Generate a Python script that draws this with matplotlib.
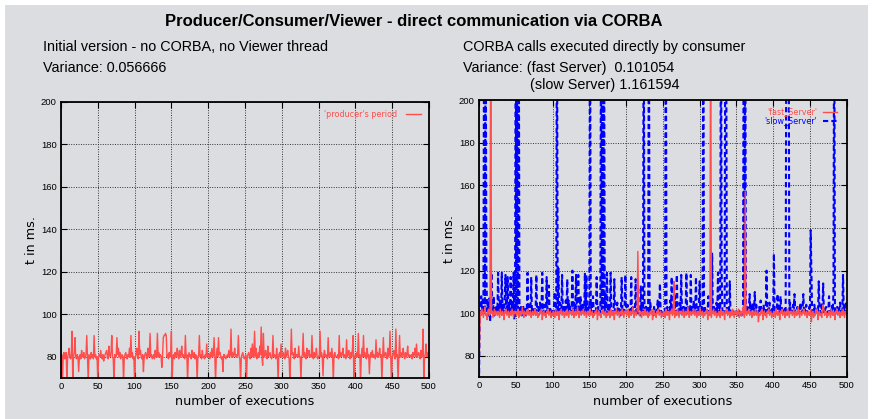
import matplotlib
matplotlib.use("Agg")
import matplotlib.pyplot as plt
from matplotlib.patches import Rectangle
import numpy as np

# producer's period, initial version (ms), one value per execution
producer_period = [
    80, 81, 68, 80, 82, 79, 80, 82, 68, 80, 81, 84, 80, 79, 81, 92, 68, 80, 82, 89, 80, 79, 81, 80, 73,
    80, 81, 79, 83, 80, 80, 82, 79, 80, 81, 90, 80, 68, 81, 80, 79, 82, 80, 81, 79, 90, 80, 81, 79, 80,
    68, 80, 81, 80, 83, 80, 79, 81, 78, 80, 81, 82, 83, 80, 79, 85, 81, 80, 82, 90, 80, 79, 68, 81, 80,
    80, 89, 81, 84, 80, 82, 79, 80, 81, 80, 68, 80, 81, 82, 80, 79, 81, 80, 84, 80, 90, 80, 82, 79, 80,
    68, 80, 81, 84, 80, 79, 92, 81, 83, 80, 79, 81, 73, 80, 81, 82, 80, 79, 84, 80, 81, 91, 80, 81, 79,
    80, 81, 79, 83, 80, 81, 91, 80, 82, 80, 81, 80, 75, 81, 89, 90, 90, 91, 90, 80, 81, 79, 82, 80, 81,
    92, 68, 80, 81, 79, 82, 80, 81, 84, 80, 79, 83, 80, 81, 85, 80, 81, 80, 79, 90, 80, 81, 68, 80, 82,
    80, 81, 79, 83, 80, 80, 82, 79, 81, 80, 68, 80, 81, 90, 80, 81, 79, 83, 80, 80, 79, 81, 80, 86, 80,
    80, 81, 79, 82, 80, 84, 80, 81, 89, 80, 68, 80, 84, 80, 89, 81, 82, 80, 79, 80, 73, 81, 81, 80, 79,
    80, 81, 80, 83, 80, 81, 93, 80, 82, 80, 81, 84, 80, 81, 80, 81, 90, 80, 79, 68, 80, 81, 82, 80, 79,
    80, 81, 68, 80, 81, 82, 80, 79, 84, 80, 86, 80, 81, 92, 80, 84, 79, 80, 82, 80, 85, 81, 94, 80, 76,
    91, 80, 81, 83, 80, 79, 85, 80, 81, 82, 80, 79, 80, 90, 80, 81, 80, 79, 84, 80, 68, 81, 82, 80, 86,
    80, 81, 82, 80, 79, 84, 80, 81, 83, 80, 79, 68, 80, 93, 81, 82, 80, 79, 84, 80, 81, 81, 80, 85, 80,
    80, 68, 80, 81, 91, 80, 82, 80, 79, 84, 80, 81, 83, 80, 81, 80, 90, 80, 79, 82, 80, 81, 84, 80, 79,
    80, 81, 92, 80, 82, 80, 71, 81, 83, 80, 81, 80, 79, 89, 80, 81, 82, 80, 84, 80, 68, 81, 82, 80, 80,
    80, 81, 79, 90, 80, 82, 80, 81, 84, 80, 81, 80, 79, 88, 80, 81, 83, 80, 79, 82, 80, 84, 90, 68, 80,
    81, 80, 82, 80, 91, 80, 81, 68, 80, 84, 80, 90, 80, 82, 80, 79, 84, 80, 81, 72, 80, 82, 80, 83, 80,
    81, 80, 79, 88, 80, 82, 80, 81, 84, 80, 81, 68, 80, 89, 80, 81, 82, 80, 79, 84, 80, 81, 92, 80, 68,
    80, 81, 83, 80, 79, 93, 80, 81, 68, 80, 90, 80, 82, 80, 81, 84, 80, 79, 82, 80, 81, 85, 80, 81, 80,
    80, 81, 79, 82, 80, 81, 84, 80, 86, 80, 81, 82, 80, 79, 83, 80, 81, 93, 68, 80, 81, 86, 80, 82, 80,
]

# CORBA called directly by consumer, fast server (ms)
fast_server = [
    68, 92, 101, 99, 102, 100, 98, 101, 103, 99, 100, 97, 101, 102, 99, 100, 260, 100, 101, 98, 100, 102, 99, 101, 100,
    99, 101, 100, 98, 102, 100, 99, 101, 100, 97, 101, 100, 102, 99, 100, 101, 98, 100, 101, 99, 102, 100, 98, 101, 100,
    101, 99, 100, 102, 98, 100, 101, 99, 100, 103, 100, 98, 101, 100, 99, 101, 100, 102, 99, 100, 101, 98, 100, 101, 99,
    100, 102, 99, 100, 101, 98, 100, 99, 101, 100, 102, 97, 100, 101, 99, 100, 98, 101, 100, 102, 99, 100, 101, 98, 100,
    99, 101, 100, 98, 102, 100, 99, 101, 100, 97, 101, 100, 102, 99, 100, 101, 98, 100, 101, 99, 102, 100, 98, 101, 100,
    101, 99, 100, 102, 98, 100, 101, 99, 100, 103, 100, 98, 101, 100, 99, 101, 100, 102, 99, 100, 101, 98, 100, 101, 99,
    100, 102, 99, 100, 101, 98, 100, 99, 101, 100, 102, 97, 100, 101, 99, 100, 98, 101, 100, 102, 99, 100, 101, 98, 100,
    99, 101, 100, 98, 102, 100, 99, 101, 100, 97, 101, 100, 102, 99, 100, 101, 98, 100, 101, 99, 102, 100, 98, 101, 100,
    101, 99, 100, 102, 98, 100, 101, 99, 100, 103, 100, 98, 101, 100, 99, 101, 129, 102, 99, 100, 101, 98, 100, 101, 99,
    100, 102, 99, 100, 101, 98, 100, 99, 101, 100, 102, 97, 100, 101, 99, 100, 98, 101, 100, 102, 99, 100, 101, 98, 100,
    99, 101, 100, 98, 102, 100, 99, 101, 100, 97, 101, 100, 102, 99, 100, 115, 98, 100, 101, 99, 102, 100, 98, 101, 100,
    101, 99, 100, 102, 98, 100, 101, 99, 100, 103, 100, 98, 101, 100, 99, 101, 100, 102, 99, 100, 101, 98, 100, 101, 99,
    100, 102, 99, 100, 101, 98, 100, 99, 101, 100, 102, 97, 100, 101, 99, 260, 98, 101, 100, 102, 99, 100, 101, 98, 100,
    99, 101, 100, 98, 102, 100, 99, 101, 100, 97, 101, 100, 102, 99, 100, 101, 98, 100, 101, 99, 102, 100, 98, 101, 100,
    101, 99, 100, 102, 98, 100, 101, 99, 100, 103, 100, 98, 157, 100, 99, 101, 100, 102, 99, 100, 101, 98, 100, 101, 99,
    100, 102, 99, 100, 101, 96, 100, 99, 101, 100, 102, 97, 100, 101, 99, 100, 98, 101, 100, 102, 99, 100, 101, 98, 100,
    99, 101, 100, 98, 102, 100, 99, 101, 100, 97, 101, 100, 102, 99, 100, 101, 98, 100, 101, 99, 102, 100, 98, 101, 100,
    101, 99, 100, 102, 98, 100, 101, 99, 100, 103, 100, 98, 101, 100, 99, 101, 100, 102, 99, 100, 101, 98, 100, 101, 99,
    100, 102, 96, 100, 101, 98, 100, 99, 101, 100, 102, 97, 100, 101, 99, 100, 98, 101, 104, 102, 99, 100, 101, 98, 100,
    99, 101, 100, 98, 102, 100, 99, 101, 100, 97, 101, 100, 102, 99, 100, 101, 98, 100, 101, 99, 102, 100, 98, 101, 100,
]

# CORBA called directly by consumer, slow server (ms)
slow_server = [
    68, 100, 104, 108, 101, 106, 100, 260, 102, 260, 119, 101, 105, 99, 107, 96, 101, 119, 103, 100, 108, 99, 102, 101, 104,
    101, 119, 100, 103, 106, 100, 119, 101, 104, 100, 107, 118, 100, 102, 117, 101, 105, 99, 117, 100, 104, 101, 119, 97, 102,
    260, 101, 260, 100, 260, 105, 100, 103, 99, 101, 104, 100, 100, 102, 99, 101, 119, 100, 101, 104, 100, 117, 100, 103, 101,
    100, 102, 101, 118, 100, 99, 103, 101, 105, 100, 101, 119, 100, 102, 104, 101, 100, 117, 100, 102, 113, 100, 102, 99, 100,
    101, 99, 104, 110, 100, 101, 260, 100, 121, 101, 105, 100, 102, 118, 100, 104, 101, 100, 106, 102, 116, 100, 106, 101, 103,
    100, 102, 120, 101, 105, 100, 103, 118, 100, 104, 118, 101, 100, 108, 102, 100, 104, 101, 100, 119, 101, 118, 100, 101, 103,
    100, 260, 101, 104, 100, 108, 101, 100, 102, 101, 117, 100, 103, 101, 100, 102, 260, 102, 260, 100, 260, 101, 110, 100, 119,
    101, 100, 104, 101, 119, 100, 102, 101, 100, 116, 100, 101, 100, 105, 101, 100, 102, 99, 100, 117, 101, 101, 100, 103, 118,
    100, 101, 104, 100, 100, 102, 101, 117, 100, 103, 101, 101, 100, 116, 100, 102, 100, 101, 100, 99, 113, 101, 105, 100, 260,
    101, 100, 104, 101, 101, 100, 260, 100, 105, 100, 100, 101, 99, 103, 100, 100, 101, 102, 106, 100, 101, 114, 100, 101, 99,
    100, 101, 100, 101, 260, 100, 103, 100, 101, 100, 106, 101, 117, 100, 101, 102, 108, 100, 101, 118, 100, 102, 101, 105, 100,
    118, 101, 100, 104, 101, 100, 102, 119, 100, 103, 100, 101, 100, 118, 100, 101, 100, 106, 101, 100, 117, 100, 102, 101, 104,
    115, 100, 101, 103, 100, 260, 101, 103, 100, 101, 100, 102, 108, 101, 100, 101, 102, 128, 100, 104, 100, 100, 101, 105, 100,
    119, 100, 103, 101, 260, 118, 100, 101, 100, 102, 260, 260, 101, 103, 100, 101, 115, 100, 101, 100, 100, 101, 99, 100, 100,
    101, 100, 99, 100, 101, 100, 100, 99, 101, 100, 260, 101, 260, 100, 104, 100, 101, 102, 109, 100, 103, 101, 105, 100, 101,
    110, 100, 104, 101, 100, 101, 103, 100, 106, 101, 101, 100, 104, 100, 100, 102, 120, 101, 102, 100, 105, 100, 101, 100, 103,
    100, 128, 101, 102, 100, 101, 109, 100, 101, 100, 108, 101, 103, 100, 100, 101, 102, 100, 260, 260, 260, 260, 101, 105, 100,
    101, 100, 104, 101, 109, 101, 100, 101, 103, 100, 101, 100, 105, 101, 100, 102, 109, 100, 102, 101, 104, 100, 100, 101, 103,
    101, 139, 119, 100, 101, 100, 104, 101, 100, 101, 103, 100, 115, 101, 101, 100, 105, 101, 114, 100, 101, 102, 103, 101, 100,
    101, 108, 100, 101, 100, 104, 101, 110, 260, 100, 101, 100, 103, 101, 100, 102, 105, 100, 101, 100, 118, 101, 103, 100, 105,
]

x_ticks = [0, 50, 100, 150, 200, 250, 300, 350, 400, 450, 500]
y_ticks = [80, 100, 120, 140, 160, 180, 200]

BG = "#dcdde0"
RED = "#ff4d4d"
BLUE = "#0000ff"
DASH = (0, (2.5, 1.5))

plt.rcParams["font.family"] = ["Liberation Sans", "DejaVu Sans"]

fig = plt.figure(figsize=(8.72, 4.19), dpi=100)
fig.patch.set_facecolor("white")
fig.patches.append(Rectangle((5 / 872, 0), 863 / 872, 1 - 5 / 419,
                             transform=fig.transFigure, facecolor=BG,
                             edgecolor="none", zorder=-10))


def style_axes(ax):
    ax.set_facecolor(BG)
    ax.set_xlim(0, 500)
    ax.set_ylim(70, 200)
    ax.set_xticks(x_ticks)
    ax.set_yticks(y_ticks)
    ax.tick_params(direction="in", length=4, width=0.8, labelsize=6.8,
                   top=True, right=True, pad=3)
    ax.grid(True, color="#333333", linestyle=(0, (1, 1.5)), linewidth=0.7)
    for sp in ax.spines.values():
        sp.set_linewidth(1.3)
    ax.set_xlabel("number of executions", fontsize=9.2, labelpad=3,
                  family="DejaVu Sans")
    ax.set_ylabel("t in ms.", fontsize=9.2, labelpad=2, family="DejaVu Sans")


def legend_entry(ax, label, y, x_text, x_line, color, ls="-", lw=1.0):
    ax.text(x_text, y, label, transform=ax.transAxes, color=color,
            fontsize=5.8, ha="right", va="center", family="DejaVu Sans")
    ax.plot(x_line, [y, y], transform=ax.transAxes, color=color,
            linewidth=lw, linestyle=ls)


execs = np.arange(len(producer_period))

ax1 = fig.add_axes([61 / 872, 1 - 378 / 419, 368 / 872, 276.3 / 419])
style_axes(ax1)
ax1.plot(execs, producer_period, color=RED, linewidth=1.0)
legend_entry(ax1, "'producer's period", 0.955, 0.913, [0.938, 0.978], RED)

ax2 = fig.add_axes([479 / 872, 1 - 377.3 / 419, 367.7 / 872, 277.3 / 419])
style_axes(ax2)
ax2.plot(execs, slow_server, color=BLUE, linewidth=1.5, linestyle=DASH)
ax2.plot(execs, fast_server, color=RED, linewidth=1.0)
legend_entry(ax2, "'fast_Server'", 0.958, 0.919, [0.936, 0.974], RED)
legend_entry(ax2, "'slow_Server'", 0.924, 0.919, [0.936, 0.974], BLUE,
             ls=DASH, lw=1.5)

fig.text(0.474, 1 - 21 / 419,
         "Producer/Consumer/Viewer - direct communication via CORBA",
         ha="center", va="center", fontsize=12, fontweight="bold")
sub = dict(ha="left", va="center", fontsize=10.4)
fig.text(43 / 872, 1 - 47 / 419, "Initial version - no CORBA, no Viewer thread", **sub)
fig.text(43 / 872, 1 - 68 / 419, "Variance: 0.056666", **sub)
fig.text(463 / 872, 1 - 47 / 419, "CORBA calls executed directly by consumer", **sub)
fig.text(463 / 872, 1 - 68 / 419, "Variance: (fast Server)  0.101054", **sub)
fig.text(530 / 872, 1 - 85 / 419, "(slow Server) 1.161594", **sub)

fig.savefig("out.png", dpi=100, facecolor=fig.get_facecolor())
